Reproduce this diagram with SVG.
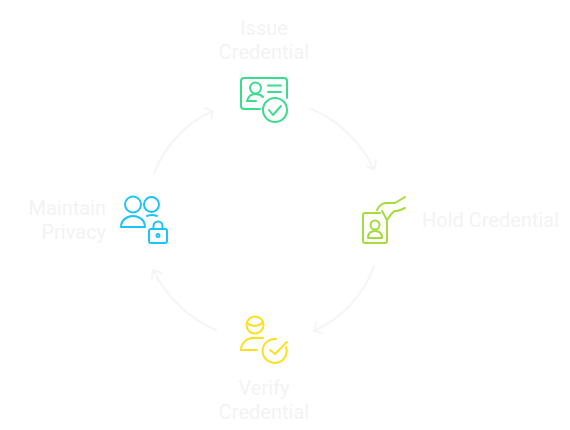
<svg xmlns="http://www.w3.org/2000/svg" width="570" height="430" viewBox="0 0 570 430">
<defs>
<style>
.t{font-family:"Roboto","Liberation Sans",sans-serif;font-size:20px;fill:#f3f3f4}
.c{fill:none;stroke:#f5f5f6;stroke-width:2;stroke-linecap:round;stroke-linejoin:round}
.i{fill:none;stroke-width:2;stroke-linecap:round;stroke-linejoin:round}
.g{stroke:#3cdc90}.l{stroke:#a5dc3c}.y{stroke:#fde01c}.b{stroke:#1cc4f8}
</style>
</defs>
<rect width="570" height="430" fill="#fff"/>
<g id="connectors">
<path class="c" d="M311 109C337 119 360 141 374 169"/><path class="c" d="M367 166L374 170L376 161"/>
<path class="c" d="M374 266C364 295 342 318 314 331"/><path class="c" d="M316 323L314 331L323 333"/>
<path class="c" d="M216 330C188 318 167 297 153 270"/><path class="c" d="M152 279L153 270L162 273"/>
<path class="c" d="M154 173C166 144 187 122 213 111"/><path class="c" d="M205 108L213 111L211 119"/>
</g>
<g id="issue">
<path class="i g" d="M260 109H244Q241 109 241 106V81Q241 78 244 78H284Q287 78 287 81V98"/>
<circle class="i g" cx="255.500" cy="88" r="5.500"/>
<path class="i g" d="M247 101C248 97 251 94 255.500 94C258 94 261 95 263 97M247 101H256"/>
<path class="i g" d="M268 85.500H281M268 92H281"/>
<circle class="i g" cx="275" cy="110" r="12"/>
<path class="i g" d="M269 110L273 115L281 106"/>
<text class="t" text-anchor="middle" x="264" y="35">Issue</text>
<text class="t" text-anchor="middle" x="264" y="59">Credential</text>
</g>
<g id="hold">
<path class="i l" d="M380 213H365Q363 213 363 215V241Q363 243 365 243H385Q387 243 387 241V220"/>
<circle class="i l" cx="375" cy="225" r="4.500"/>
<path class="i l" d="M368 238C368 233 371 231 375 231C379 231 382 233 382 238Z"/>
<path class="i l" d="M377 210C379 206 382 203 386 203H395L405 197M405 208C401 210 398 211 395 211C392 212 390 216 387 220L382 211"/>
<text class="t" x="422" y="227">Hold Credential</text>
</g>
<g id="verify">
<circle class="i y" cx="255" cy="325" r="8.500"/>
<path class="i y" d="M247 323C252 327 258 327 263 322"/>
<path class="i y" d="M241 350C241 343 247 338 253 338H263M241 350H257"/>
<path class="i y" d="M286 347A12 12 0 1 1 276 339"/>
<path class="i y" d="M270 350L275 354L287 342"/>
<text class="t" text-anchor="middle" x="264" y="395">Verify</text>
<text class="t" text-anchor="middle" x="264" y="419">Credential</text>
</g>
<g id="maintain">
<circle class="i b" cx="133" cy="204.500" r="8"/>
<circle class="i b" cx="151.500" cy="204.500" r="7.500"/>
<path class="i b" d="M121 227C121 220 127 216 133 216C139 216 145 220 145 227Z"/>
<path class="i b" d="M147 216Q152 214 157 216"/>
<rect class="i b" x="149" y="229" width="18" height="14" rx="2"/>
<path class="i b" d="M153.500 229V226A4.500 4.500 0 0 1 162.500 226V229"/>
<circle class="i b" cx="158" cy="235.500" r="1.500"/>
<text class="t" text-anchor="end" x="106" y="215">Maintain</text>
<text class="t" text-anchor="end" x="106" y="239">Privacy</text>
</g>
</svg>
